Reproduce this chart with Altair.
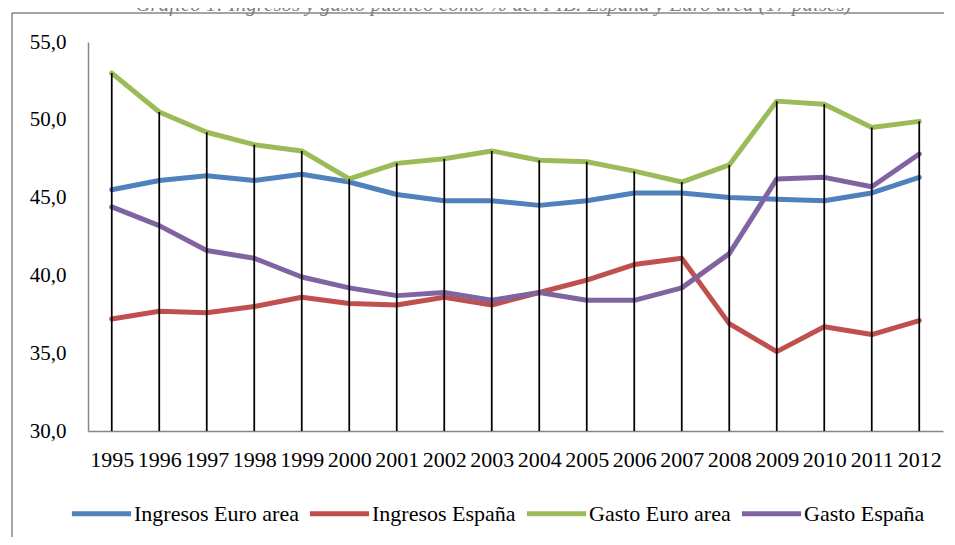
import altair as alt
import pandas as pd

years = ["1995", "1996", "1997", "1998", "1999", "2000", "2001", "2002", "2003",
         "2004", "2005", "2006", "2007", "2008", "2009", "2010", "2011", "2012"]
ingresos_euro = [45.5, 46.1, 46.4, 46.1, 46.5, 46.0, 45.2, 44.8, 44.8,
                 44.5, 44.8, 45.3, 45.3, 45.0, 44.9, 44.8, 45.3, 46.3]
ingresos_esp = [37.2, 37.7, 37.6, 38.0, 38.6, 38.2, 38.1, 38.6, 38.1,
                38.9, 39.7, 40.7, 41.1, 36.9, 35.1, 36.7, 36.2, 37.1]
gasto_euro = [53.0, 50.5, 49.2, 48.4, 48.0, 46.2, 47.2, 47.5, 48.0,
              47.4, 47.3, 46.7, 46.0, 47.1, 51.2, 51.0, 49.5, 49.9]
gasto_esp = [44.4, 43.2, 41.6, 41.1, 39.9, 39.2, 38.7, 38.9, 38.4,
             38.9, 38.4, 38.4, 39.2, 41.4, 46.2, 46.3, 45.7, 47.8]
series_names = ["Ingresos Euro area", "Ingresos España", "Gasto Euro area", "Gasto España"]
series_colors = ["#4F81BD", "#C0504D", "#9BBB59", "#8064A2"]
y_ticks = [30, 35, 40, 45, 50, 55]
title_text = "Gráfico 1: Ingresos y gasto público como % del PIB. España y Euro área (17 países)"

rows = []
for name, vals in zip(series_names, [ingresos_euro, ingresos_esp, gasto_euro, gasto_esp]):
    for yr, v in zip(years, vals):
        rows.append({"year": yr, "series": name, "value": v})
df = pd.DataFrame(rows)
df_rules = pd.DataFrame({"year": years, "top": gasto_euro})

FONT = "Liberation Serif"
W, H = 855, 389

x_scale = alt.Scale(type="point", padding=0.5, domain=years)
y_scale = alt.Scale(domain=[30, 55], nice=False, zero=False)

x_axis = alt.Axis(title=None, labelAngle=0, ticks=False, grid=False,
                  domainColor="#868686", domainWidth=1.5,
                  labelFont=FONT, labelFontSize=22, labelColor="black", labelPadding=18)
y_axis = alt.Axis(title=None, values=y_ticks, ticks=False, grid=False,
                  labelExpr="replace(format(datum.value, '.1f'), '.', ',')",
                  domainColor="#868686", domainWidth=1.5,
                  labelFont=FONT, labelFontSize=21, labelColor="black", labelPadding=22)

one = pd.DataFrame({"a": [0]})
frame_left = alt.Chart(one).mark_rule(color="#868686", strokeWidth=1.5).encode(
    x=alt.value(-76), y=alt.value(-29), y2=alt.value(700))
frame_top = alt.Chart(one).mark_rule(color="#868686", strokeWidth=1.5).encode(
    x=alt.value(-76), x2=alt.value(1000), y=alt.value(-29))

lines = alt.Chart(df).mark_line(strokeWidth=5, strokeCap="round", strokeJoin="round").encode(
    x=alt.X("year:O", scale=x_scale, axis=x_axis),
    y=alt.Y("value:Q", scale=y_scale, axis=y_axis),
    color=alt.Color("series:N", scale=alt.Scale(domain=series_names, range=series_colors),
                    legend=alt.Legend(title=None, orient="none", legendX=-19, legendY=439,
                                      direction="horizontal", symbolType="stroke",
                                      symbolSize=3500, symbolStrokeWidth=5,
                                      labelFont=FONT, labelFontSize=22, labelColor="black",
                                      labelOffset=0, columnPadding=0, padding=0,
                                      labelLimit=400)),
)

rules = alt.Chart(df_rules).mark_rule(color="black", strokeWidth=1.75).encode(
    x=alt.X("year:O", scale=x_scale, axis=x_axis),
    y=alt.Y("top:Q", scale=y_scale, axis=y_axis),
    y2=alt.datum(30),
)

title = alt.Chart(pd.DataFrame({"t": [title_text]})).mark_text(
    font=FONT, fontSize=21, fontStyle="italic", color="#7F7F7F",
    align="center", baseline="alphabetic"
).encode(x=alt.value(405.5), y=alt.value(-31), text="t:N")

chart = alt.layer(frame_left, frame_top, lines, rules, title).properties(
    width=W, height=H,
    padding={"left": 80, "top": 34, "right": 1, "bottom": 106},
    autosize=alt.AutoSizeParams(type="none"),
).configure_view(stroke=None)

chart.save("out.html", embed_options={"renderer": "svg", "actions": False})
